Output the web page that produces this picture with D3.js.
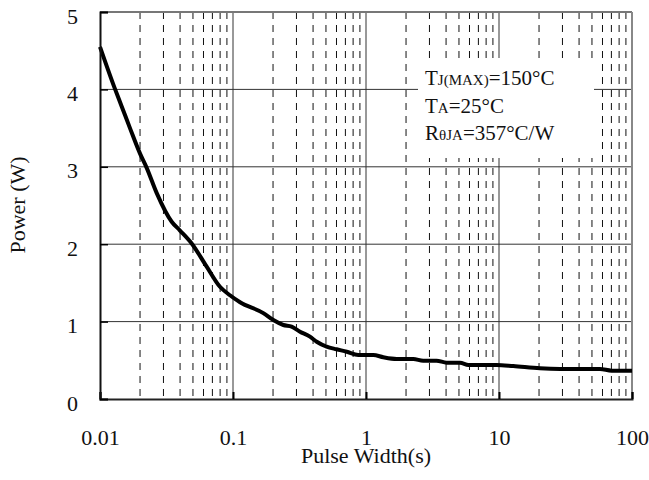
<!DOCTYPE html>
<html>
<head>
<meta charset="utf-8">
<script src="https://cdn.jsdelivr.net/npm/d3@7"></script>
<style>
  body { margin: 0; background: #fff; }
  svg { display: block; }
  text { font-family: "Liberation Serif", "Times New Roman", serif; fill: #111; }
</style>
</head>
<body>
<svg id="chart" width="649" height="480"></svg>
<script>
// ---- data ----
const pulseWidth = [0.01, 0.013, 0.01456, 0.0168, 0.02, 0.0224, 0.0267, 0.0346, 0.0398, 0.0489, 0.0634, 0.0798, 0.0949, 0.113, 0.169, 0.201, 0.239, 0.276, 0.319, 0.379, 0.426, 0.506, 0.601, 0.716, 0.875, 1.135, 1.35, 1.70, 2.27, 2.69, 3.39, 4.04, 5.09, 5.89, 9.6, 12.8, 20.3, 28.8, 57.4, 70.3, 100];
const power      = [4.55, 4.0, 3.78, 3.50, 3.17, 2.99, 2.66, 2.29, 2.18, 2.01, 1.71, 1.45, 1.34, 1.25, 1.11, 1.02, 0.956, 0.934, 0.87, 0.805, 0.74, 0.676, 0.642, 0.611, 0.568, 0.568, 0.539, 0.517, 0.517, 0.495, 0.495, 0.469, 0.469, 0.44, 0.44, 0.426, 0.396, 0.388, 0.388, 0.366, 0.366];
const xTickValues = [0.01, 0.1, 1, 10, 100];
const xTickLabels = ["0.01", "0.1", "1", "10", "100"];
const yTickValues = [0, 1, 2, 3, 4, 5];
const yTickLabels = ["0", "1", "2", "3", "4", "5"];
const legendLines = [
  { main: "T", sub: "J(MAX)", rest: "=150°C" },
  { main: "T", sub: "A", rest: "=25°C" },
  { main: "R", sub: "θJA", rest: "=357°C/W" }
];
const xTitle = "Pulse Width(s)";
const yTitle = "Power (W)";

// ---- layout ----
const L = 100, R = 632, T = 12, B = 399;
const svg = d3.select("#chart");
const x = d3.scaleLog().domain([0.01, 100]).range([L, R]);
const y = d3.scaleLinear().domain([0, 5]).range([B, T]);

// minor vertical (dashed) grid
const minor = [];
for (let d = 0.01; d < 100; d *= 10) {
  for (let k = 2; k <= 9; k++) minor.push(+(d * k).toPrecision(6));
}
svg.append("g").selectAll("line").data(minor).join("line")
  .attr("x1", d => x(d)).attr("x2", d => x(d))
  .attr("y1", T).attr("y2", B)
  .attr("stroke", "#111").attr("stroke-width", 1)
  .attr("stroke-dasharray", "7,6");

// major vertical grid
svg.append("g").selectAll("line").data(xTickValues.slice(1, -1)).join("line")
  .attr("x1", d => x(d)).attr("x2", d => x(d))
  .attr("y1", T).attr("y2", B)
  .attr("stroke", "#333").attr("stroke-width", 1);

// horizontal grid
svg.append("g").selectAll("line").data(yTickValues.slice(1, -1)).join("line")
  .attr("x1", L).attr("x2", R)
  .attr("y1", d => y(d)).attr("y2", d => y(d))
  .attr("stroke", "#333").attr("stroke-width", 1);

// top / right borders
svg.append("line").attr("x1", L).attr("x2", R).attr("y1", T).attr("y2", T)
  .attr("stroke", "#777").attr("stroke-width", 2);
svg.append("line").attr("x1", R).attr("x2", R).attr("y1", T).attr("y2", B)
  .attr("stroke", "#888").attr("stroke-width", 2);

// legend box (hides grid)
svg.append("rect").attr("x", 418).attr("y", 58).attr("width", 176).attr("height", 100)
  .attr("fill", "#fff");

const lg = svg.append("g");
legendLines.forEach((ln, i) => {
  const t = lg.append("text").attr("x", 425).attr("y", 85 + i * 27.5)
    .attr("font-size", 21);
  t.append("tspan").text(ln.main);
  t.append("tspan").attr("font-size", 15).text(ln.sub);
  t.append("tspan").text(ln.rest);
});

// curve
const line = d3.line().x((d, i) => x(pulseWidth[i])).y(d => y(d))
  .curve(d3.curveMonotoneX);
svg.append("path").datum(power)
  .attr("d", line)
  .attr("fill", "none").attr("stroke", "#000").attr("stroke-width", 4)
  .attr("stroke-linejoin", "round");

// axes
const xAxis = d3.axisBottom(x).tickValues(xTickValues)
  .tickFormat((d, i) => xTickLabels[i]).tickSize(-7).tickPadding(30);
const gx = svg.append("g").attr("transform", `translate(0,${B})`).call(xAxis);
gx.select(".domain").attr("stroke", "#222").attr("stroke-width", 2);
gx.selectAll(".tick line").attr("stroke", "#000").attr("stroke-width", 2);
gx.selectAll("text").attr("font-size", 22).attr("fill", "#111")
  .attr("font-family", "'Liberation Serif', 'Times New Roman', serif");

const yAxis = d3.axisLeft(y).tickValues(yTickValues)
  .tickFormat((d, i) => yTickLabels[i]).tickSize(-8).tickPadding(22);
const gy = svg.append("g").attr("transform", `translate(${L},0)`).call(yAxis);
gy.select(".domain").attr("stroke", "#111").attr("stroke-width", 2);
gy.selectAll(".tick line").attr("stroke", "#000").attr("stroke-width", 1.5);
gy.selectAll("text").attr("font-size", 22).attr("fill", "#111").attr("dy", "0.5em")
  .attr("font-family", "'Liberation Serif', 'Times New Roman', serif");

// titles
svg.append("text").attr("x", 366).attr("y", 463).attr("text-anchor", "middle")
  .attr("font-size", 22).text(xTitle);
svg.append("text").attr("transform", "translate(25,205) rotate(-90)")
  .attr("text-anchor", "middle").attr("font-size", 22).text(yTitle);
</script>
</body>
</html>
